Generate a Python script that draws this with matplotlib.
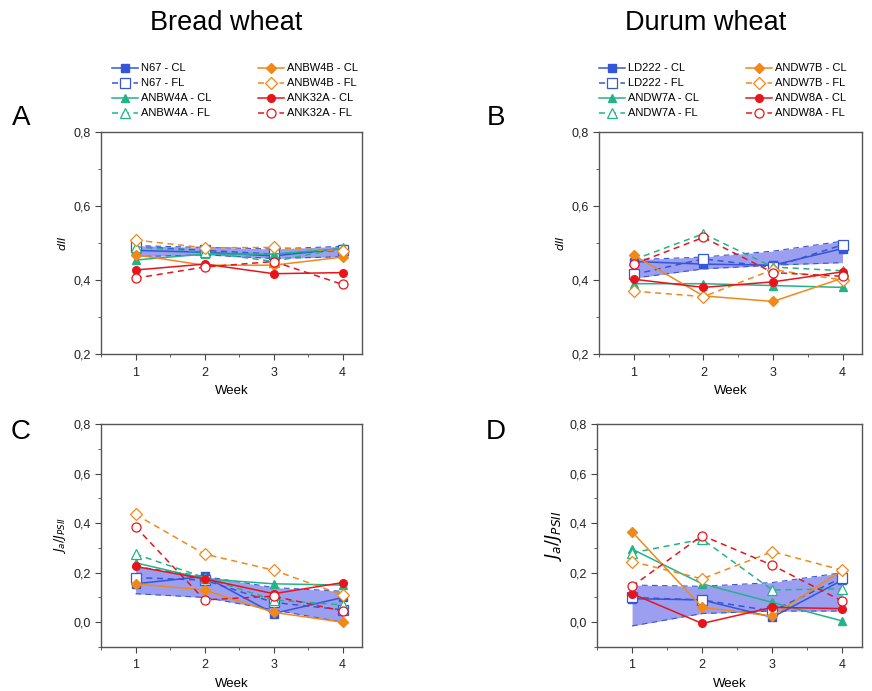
import matplotlib
matplotlib.use("Agg")
import matplotlib.pyplot as plt
from matplotlib.ticker import FuncFormatter, MultipleLocator

plt.rcParams['font.family'] = ['Liberation Sans', 'DejaVu Sans']

weeks = [1, 2, 3, 4]

# --- panel A: dII, bread wheat ---
bread_names = ['N67', 'ANBW4A', 'ANBW4B', 'ANK32A']
a_cl = {
    'N67': [0.480, 0.475, 0.465, 0.485],
    'ANBW4A': [0.454, 0.470, 0.470, 0.485],
    'ANBW4B': [0.468, 0.440, 0.440, 0.462],
    'ANK32A': [0.427, 0.443, 0.417, 0.420],
}
a_fl = {
    'N67': [0.490, 0.480, 0.470, 0.480],
    'ANBW4A': [0.490, 0.475, 0.450, 0.487],
    'ANBW4B': [0.508, 0.487, 0.488, 0.478],
    'ANK32A': [0.405, 0.435, 0.450, 0.388],
}
a_band_lo = [0.463, 0.468, 0.458, 0.463]
a_band_hi = [0.493, 0.488, 0.484, 0.491]

# --- panel B: dII, durum wheat ---
durum_names = ['LD222', 'ANDW7A', 'ANDW7B', 'ANDW8A']
b_cl = {
    'LD222': [0.450, 0.443, 0.440, 0.485],
    'ANDW7A': [0.390, 0.390, 0.385, 0.380],
    'ANDW7B': [0.467, 0.357, 0.342, 0.405],
    'ANDW8A': [0.402, 0.380, 0.395, 0.422],
}
b_fl = {
    'LD222': [0.415, 0.457, 0.435, 0.495],
    'ANDW7A': [0.455, 0.525, 0.435, 0.425],
    'ANDW7B': [0.370, 0.355, 0.428, 0.400],
    'ANDW8A': [0.443, 0.515, 0.420, 0.410],
}
b_band_lo = [0.405, 0.430, 0.440, 0.447]
b_band_hi = [0.455, 0.462, 0.478, 0.505]

# --- panel C: Ja/JPSII, bread wheat ---
c_cl = {
    'N67': [0.155, 0.185, 0.035, 0.100],
    'ANBW4A': [0.240, 0.175, 0.155, 0.150],
    'ANBW4B': [0.155, 0.130, 0.040, 0.000],
    'ANK32A': [0.225, 0.175, 0.115, 0.160],
}
c_fl = {
    'N67': [0.180, 0.170, 0.080, 0.050],
    'ANBW4A': [0.275, 0.180, 0.090, 0.070],
    'ANBW4B': [0.435, 0.275, 0.210, 0.110],
    'ANK32A': [0.385, 0.090, 0.105, 0.045],
}
c_band_lo = [0.115, 0.100, 0.050, 0.000]
c_band_hi = [0.225, 0.185, 0.140, 0.125]

# --- panel D: Ja/JPSII, durum wheat ---
d_cl = {
    'LD222': [0.095, 0.090, 0.020, 0.170],
    'ANDW7A': [0.295, 0.155, 0.080, 0.005],
    'ANDW7B': [0.365, 0.060, 0.025, 0.210],
    'ANDW8A': [0.115, -0.005, 0.060, 0.055],
}
d_fl = {
    'LD222': [0.100, 0.090, 0.045, 0.180],
    'ANDW7A': [0.280, 0.335, 0.130, 0.135],
    'ANDW7B': [0.245, 0.175, 0.285, 0.210],
    'ANDW8A': [0.145, 0.350, 0.230, 0.085],
}
d_band_lo = [-0.015, 0.035, 0.045, 0.045]
d_band_hi = [0.150, 0.145, 0.160, 0.200]

colors = ['#3556d8', '#22b389', '#f0891a', '#e8141c']
markers = ['s', '^', 'D', 'o']
band_color = '#7b7fec'

W, H = 872, 691
fig = plt.figure(figsize=(W / 100, H / 100), dpi=100)


def px_axes(left, top, right, bottom):
    return fig.add_axes([left / W, 1 - bottom / H, (right - left) / W, (bottom - top) / H])


def comma(v, pos):
    return f'{v:.1f}'.replace('.', ',')


def draw_panel(ax, names, cl, fl, lo, hi, ylim, ylabel, ylabel_size):
    ax.fill_between(weeks, lo, hi, color=band_color, alpha=0.75, lw=0, zorder=1)
    ax.plot(weeks, lo, color=colors[0], lw=0.8, ls=(0, (5, 4)), zorder=1.5)
    ax.plot(weeks, hi, color=colors[0], lw=0.8, ls=(0, (5, 4)), zorder=1.5)
    for i, n in enumerate(names):
        c = colors[i]
        ms = 5.5 if markers[i] != 'D' else 5
        ax.plot(weeks, cl[n], color=c, lw=1.1, marker=markers[i], ms=ms,
                mfc=c, mec=c, label=f'{n} - CL', zorder=3)
        ax.plot(weeks, fl[n], color=c, lw=1.1, ls=(0, (4, 3)), marker=markers[i],
                ms=ms + 1, mfc='white', mec=c, mew=0.9, label=f'{n} - FL', zorder=3)
    ax.set_xlim(0.5, 4.28)
    ax.set_ylim(*ylim)
    ax.set_xticks(weeks)
    ax.xaxis.set_minor_locator(MultipleLocator(0.5))
    ax.yaxis.set_major_locator(MultipleLocator(0.2))
    ax.yaxis.set_minor_locator(MultipleLocator(0.1))
    ax.yaxis.set_major_formatter(FuncFormatter(comma))
    ax.tick_params(which='both', direction='out', labelsize=9, top=False, right=False,
                   color='#444444', labelcolor='#222222')
    ax.tick_params(which='major', length=4)
    ax.tick_params(axis='x', which='major', pad=5)
    ax.tick_params(which='minor', length=2.5)
    for s in ax.spines.values():
        s.set_color('#555555')
        s.set_linewidth(1.0)
    ax.set_xlabel('Week', fontsize=9.5, labelpad=5)
    ax.set_ylabel(ylabel, fontsize=ylabel_size, labelpad=4)


axA = px_axes(101, 132, 362, 354)
axB = px_axes(599, 132, 862, 354)
axC = px_axes(101, 424, 362, 647)
axD = px_axes(597, 424, 862, 647)

draw_panel(axA, bread_names, a_cl, a_fl, a_band_lo, a_band_hi, (0.2, 0.8),
           r'$dII$', 8)
draw_panel(axB, durum_names, b_cl, b_fl, b_band_lo, b_band_hi, (0.2, 0.8),
           r'$dII$', 8)
draw_panel(axC, bread_names, c_cl, c_fl, c_band_lo, c_band_hi, (-0.1, 0.8),
           r'$J_a/J_{PSII}$', 9)
draw_panel(axD, durum_names, d_cl, d_fl, d_band_lo, d_band_hi, (-0.1, 0.8),
           r'$J_a/J_{PSII}$', 12.5)

for ax, x0 in [(axA, 108), (axB, 595)]:
    h, l = ax.get_legend_handles_labels()
    ax.legend(h, l, ncol=2, frameon=False, fontsize=8, loc='upper left',
              bbox_to_anchor=(x0 / W, 1 - 59 / H), bbox_transform=fig.transFigure,
              handlelength=2.3, handletextpad=0.3, labelspacing=0.45,
              columnspacing=4.2, borderaxespad=0)

fig.text(226 / W, 1 - 23 / H, 'Bread wheat', fontsize=19.5, ha='center', va='center')
fig.text(706 / W, 1 - 23 / H, 'Durum wheat', fontsize=19.5, ha='center', va='center')

for letter, x, y in [('A', 21, 118), ('B', 496, 118), ('C', 21, 432), ('D', 496, 432)]:
    fig.text(x / W, 1 - y / H, letter, fontsize=20, ha='center', va='center')

fig.savefig('out.png', dpi=100)
